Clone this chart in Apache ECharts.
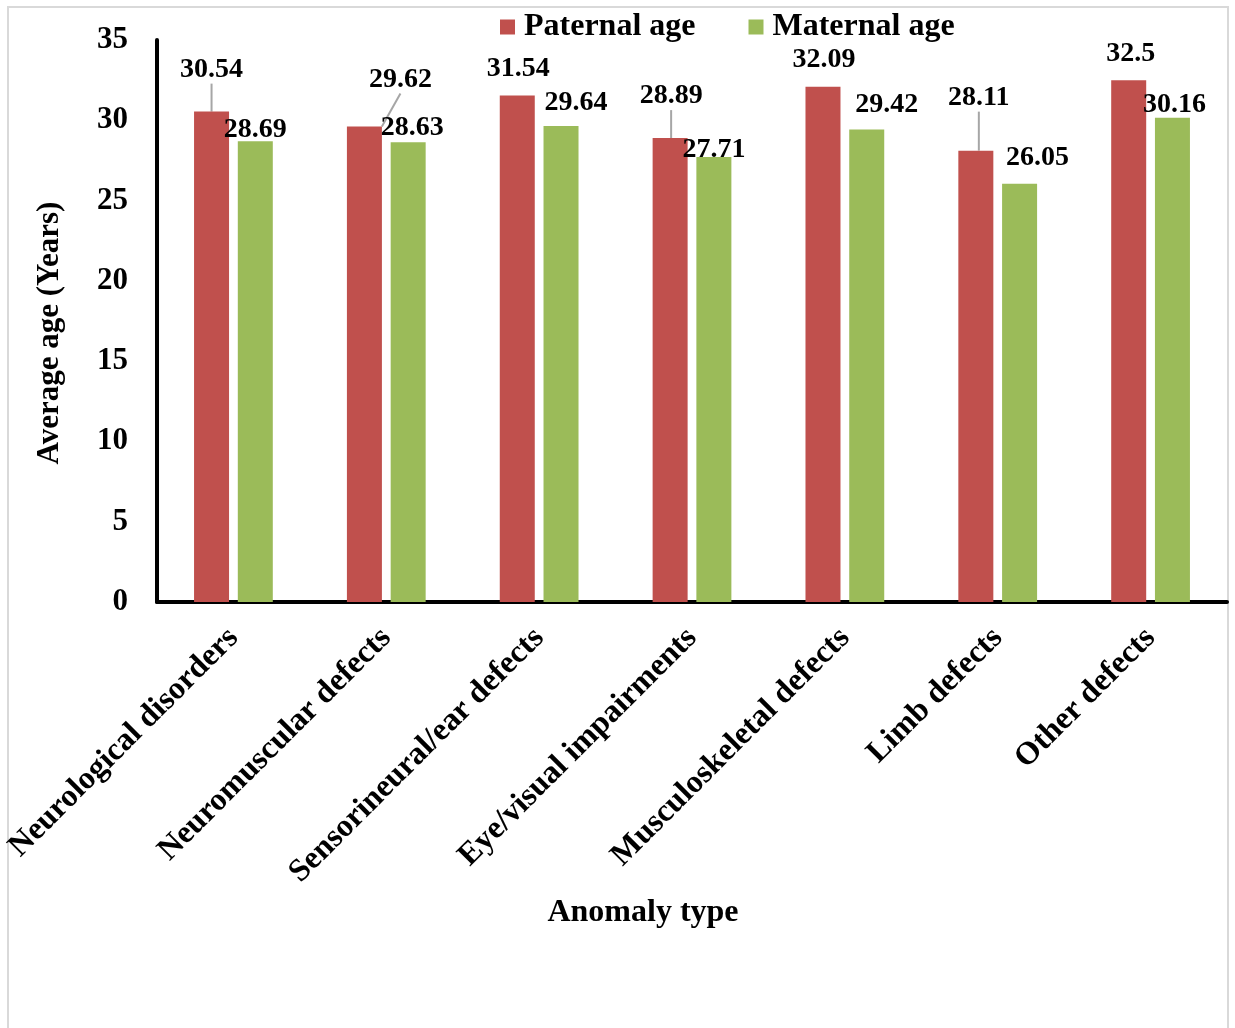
<!DOCTYPE html>
<html>
<head>
<meta charset="utf-8">
<script src="https://cdn.jsdelivr.net/npm/echarts@6/dist/echarts.min.js"></script>
<style>
  html, body { margin: 0; padding: 0; background: #ffffff; }
  #chart { width: 1235px; height: 1028px; }
</style>
</head>
<body>
<div id="chart"></div>
<script>
// Anomaly categories and mean parental ages (years)
const categories = [
  'Neurological disorders',
  'Neuromuscular defects',
  'Sensorineural/ear defects',
  'Eye/visual impairments',
  'Musculoskeletal defects',
  'Limb defects',
  'Other defects'
];
const paternalAge = [30.54, 29.62, 31.54, 28.89, 32.09, 28.11, 32.5];
const maternalAge = [28.69, 28.63, 29.64, 27.71, 29.42, 26.05, 30.16];
const yTicks = { min: 0, max: 35, interval: 5 };

// Manual label nudges (pixels) and which labels get a leader line
const paternalLabelShift = [[0, -23], [36, -28], [1, -8], [1, -23], [1, -8], [3, -34], [2, -7]];
const maternalLabelShift = [[0, 7], [4, 4], [15, -4], [0, 12], [20, -6], [18, -7], [2, 6]];
const paternalLeader = [true, true, false, true, false, true, false];

const FONT = '"Liberation Serif", "Times New Roman", serif';
const RED = '#C0504D';
const GREEN = '#9BBB59';

function buildData(values, leaders) {
  return values.map((v, i) => ({
    value: v,
    labelLine: { show: !!(leaders && leaders[i]) }
  }));
}

function shiftFn(shifts) {
  return function (params) {
    const s = shifts[params.dataIndex] || [0, 0];
    return { dx: s[0], dy: s[1] };
  };
}

const labelStyle = {
  show: true,
  position: 'top',
  distance: 5,
  color: '#000',
  fontFamily: FONT,
  fontWeight: 'bold',
  fontSize: 28
};

const chart = echarts.init(document.getElementById('chart'), null, { renderer: 'canvas' });

chart.setOption({
  backgroundColor: '#ffffff',
  animation: false,
  graphic: [{
    type: 'rect',
    shape: { x: 8, y: 7, width: 1220, height: 1040 },
    style: { fill: 'none', stroke: '#d9d9d9', lineWidth: 2 },
    silent: true,
    z: -10
  }],
  legend: {
    left: 500,
    top: 11,
    padding: 0,
    itemWidth: 15,
    itemHeight: 15,
    itemGap: 53,
    icon: 'rect',
    textStyle: {
      fontFamily: FONT,
      fontWeight: 'bold',
      fontSize: 32,
      color: '#000',
      padding: [0, 0, 0, 4]
    },
    data: ['Paternal age', 'Maternal age']
  },
  grid: { left: 157, right: 8, top: 40, bottom: 426, containLabel: false },
  xAxis: {
    type: 'category',
    data: categories,
    name: 'Anomaly type',
    nameLocation: 'middle',
    nameGap: 295,
    nameTextStyle: {
      fontFamily: FONT,
      fontWeight: 'bold',
      fontSize: 32,
      color: '#000',
      padding: [0, 98, 0, 0]
    },
    axisLine: { show: true, lineStyle: { color: '#000', width: 4 } },
    axisTick: { show: false },
    axisLabel: {
      interval: 0,
      rotate: 45,
      margin: 31,
      fontFamily: FONT,
      fontWeight: 'bold',
      fontSize: 32,
      color: '#000'
    },
    splitLine: { show: false }
  },
  yAxis: {
    type: 'value',
    min: yTicks.min,
    max: yTicks.max,
    interval: yTicks.interval,
    name: 'Average age (Years)',
    nameLocation: 'middle',
    nameGap: 92,
    nameTextStyle: {
      fontFamily: FONT,
      fontWeight: 'bold',
      fontSize: 31,
      color: '#000',
      padding: [0, 24, 0, 0]
    },
    axisLine: { show: true, lineStyle: { color: '#000', width: 4 } },
    axisTick: { show: false },
    axisLabel: {
      margin: 29,
      fontFamily: FONT,
      fontWeight: 'bold',
      fontSize: 31,
      color: '#000'
    },
    splitLine: { show: false }
  },
  series: [
    {
      name: 'Paternal age',
      type: 'bar',
      barWidth: 35,
      barGap: '25%',
      itemStyle: { color: RED },
      data: buildData(paternalAge, paternalLeader),
      label: Object.assign({}, labelStyle),
      labelLine: { lineStyle: { color: '#A6A6A6', width: 2 } },
      labelLayout: shiftFn(paternalLabelShift)
    },
    {
      name: 'Maternal age',
      type: 'bar',
      barWidth: 35,
      itemStyle: { color: GREEN },
      data: buildData(maternalAge, null),
      label: Object.assign({}, labelStyle),
      labelLayout: shiftFn(maternalLabelShift)
    }
  ]
});
</script>
</body>
</html>
